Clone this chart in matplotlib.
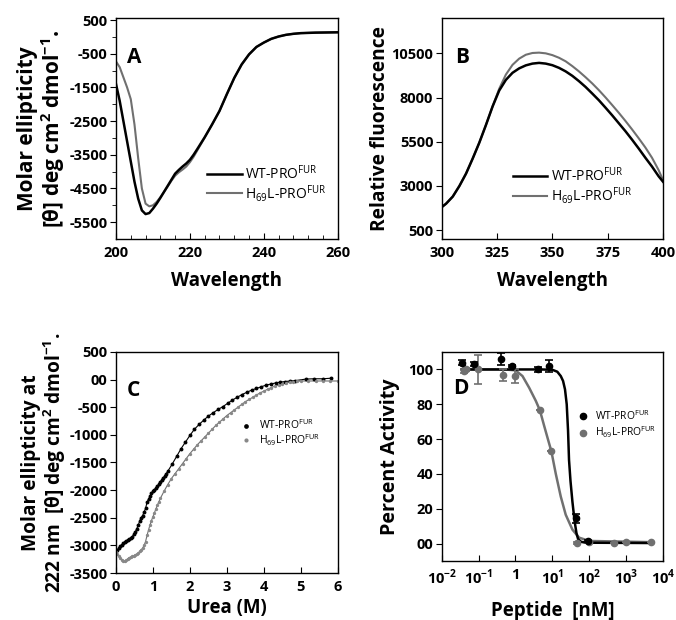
import matplotlib
matplotlib.use("Agg")
import matplotlib.pyplot as plt
from matplotlib.ticker import FixedLocator, NullLocator
from matplotlib.lines import Line2D

plt.rcParams["font.family"] = ["Open Sans", "DejaVu Sans"]
plt.rcParams["mathtext.fontset"] = "custom"
plt.rcParams["mathtext.rm"] = "Open Sans"
plt.rcParams["mathtext.bf"] = "Open Sans:bold"
plt.rcParams["axes.linewidth"] = 1.0

noir = "#000000"
gris = "#707070"

# ---------------- A : spectre CD
wl_wt = [200, 201, 202, 203, 204, 205, 206, 207, 208, 209, 210, 211, 212, 213, 214,
         215, 216, 217, 218, 219, 220, 221, 222, 224, 226, 228, 230, 232, 234, 236,
         238, 240, 242, 244, 246, 248, 250, 254, 260]
cd_wt = [-1400, -1900, -2500, -3100, -3700, -4300, -4800, -5150, -5260, -5230, -5100,
         -4950, -4780, -4600, -4420, -4240, -4060, -3950, -3850, -3760, -3650, -3500,
         -3330, -2980, -2600, -2200, -1700, -1220, -820, -520, -300, -170, -60, 10,
         60, 90, 110, 125, 135]
wl_h69 = [200, 201, 202, 203, 204, 205, 206, 207, 208, 209, 210, 211, 212, 213, 214,
          215, 216, 217, 218, 219, 220, 221, 222, 224, 226, 228, 230, 232, 234, 236,
          238, 240, 242, 244, 246, 248, 250, 254, 260]
cd_h69 = [-730, -900, -1200, -1500, -1850, -2600, -3600, -4500, -4950, -5030, -5000,
          -4900, -4760, -4600, -4440, -4270, -4120, -4020, -3940, -3850, -3720, -3560,
          -3370, -2990, -2600, -2200, -1700, -1220, -820, -520, -300, -170, -60, 10,
          60, 90, 110, 125, 135]

# ---------------- B : fluorescence
wl_fl = [300, 302, 305, 308, 311, 314, 317, 320, 323, 326, 329, 332, 335, 338, 341, 344,
         347, 350, 353, 356, 359, 362, 365, 368, 371, 374, 377, 380, 383, 386, 389, 392,
         395, 398, 400]
fl_wt = [1800, 2000, 2400, 3000, 3700, 4550, 5450, 6450, 7500, 8400, 9000, 9400, 9650,
         9820, 9920, 9960, 9920, 9830, 9680, 9480, 9230, 8930, 8600, 8230, 7850, 7430,
         7000, 6550, 6100, 5620, 5120, 4600, 4100, 3550, 3240]
fl_h69 = [1800, 2000, 2400, 3000, 3700, 4550, 5450, 6450, 7500, 8500, 9300, 9850, 10200,
          10420, 10520, 10540, 10500, 10400, 10250, 10050, 9780, 9480, 9150, 8800, 8420,
          8010, 7580, 7140, 6680, 6200, 5700, 5180, 4600, 3900, 3330]

# ---------------- C : dénaturation à l'urée
urea_wt = [0.00, 0.04, 0.08, 0.12, 0.16, 0.20, 0.24, 0.28, 0.32, 0.36, 0.40, 0.44, 0.48,
           0.52, 0.56, 0.60, 0.64, 0.68, 0.72, 0.76, 0.80, 0.84, 0.88, 0.92, 0.96, 1.00,
           1.04, 1.08, 1.12, 1.16, 1.20, 1.24, 1.28, 1.32, 1.36, 1.40, 1.52, 1.64, 1.76,
           1.88, 2.00, 2.12, 2.25, 2.38, 2.50, 2.63, 2.76, 2.89, 3.02, 3.15, 3.28, 3.41,
           3.54, 3.67, 3.80, 3.93, 4.06, 4.19, 4.32, 4.45, 4.58, 4.71, 4.84, 5.14, 5.37,
           5.59, 5.82]
ell_wt = [-3100, -3080, -3050, -3020, -2990, -2965, -2945, -2920, -2900, -2885, -2870,
          -2840, -2800, -2760, -2700, -2640, -2560, -2500, -2460, -2400, -2330, -2220,
          -2160, -2110, -2060, -2020, -1990, -1960, -1930, -1890, -1850, -1810, -1780,
          -1740, -1700, -1660, -1530, -1390, -1250, -1130, -1010, -900, -810, -730, -660,
          -600, -540, -490, -430, -370, -320, -270, -230, -190, -160, -130, -100, -80,
          -60, -45, -35, -25, -20, 10, 15, 15, 25]
urea_h69 = [0.00, 0.04, 0.08, 0.12, 0.16, 0.20, 0.24, 0.28, 0.32, 0.36, 0.40, 0.44, 0.48,
            0.52, 0.56, 0.60, 0.64, 0.68, 0.72, 0.76, 0.80, 0.84, 0.88, 0.92, 0.96, 1.00,
            1.04, 1.08, 1.12, 1.16, 1.20, 1.30, 1.40, 1.50, 1.60, 1.70, 1.80, 1.90, 2.00,
            2.10, 2.20, 2.30, 2.40, 2.50, 2.60, 2.70, 2.80, 2.90, 3.00, 3.10, 3.20, 3.30,
            3.40, 3.50, 3.60, 3.70, 3.80, 3.90, 4.00, 4.10, 4.20, 4.30, 4.40, 4.50, 4.60,
            4.70, 4.80, 4.90, 5.00, 5.20, 5.40, 5.60, 5.80, 6.00]
ell_h69 = [-3120, -3160, -3200, -3230, -3260, -3280, -3290, -3270, -3240, -3220, -3210,
           -3200, -3190, -3170, -3160, -3140, -3110, -3080, -3050, -3000, -2930, -2820,
           -2720, -2630, -2550, -2480, -2410, -2340, -2270, -2210, -2150, -2020, -1900,
           -1790, -1700, -1610, -1520, -1430, -1340, -1260, -1180, -1110, -1040, -970,
           -900, -830, -770, -710, -650, -600, -550, -500, -450, -400, -360, -320, -280,
           -240, -210, -175, -145, -120, -95, -75, -60, -45, -35, -30, -25, -25, -25,
           -25, -25, -25]

# ---------------- D : inhibition
pep_wt = [0.036, 0.076, 0.41, 0.79, 4.1, 8.3, 43, 95]
act_wt = [103.8, 103, 106, 102, 100, 102, 14.5, 1.5]
err_wt = [1.5, 1, 3.5, 0.5, 1.5, 3.5, 2.5, 0.5]
pep_h69 = [0.04, 0.045, 0.095, 0.45, 0.95, 4.6, 9.4, 48, 100, 480, 1000, 4800]
act_h69 = [99, 100, 100, 96.8, 96.3, 76.5, 53, 0.5, 1, 0.5, 0.8, 1]
err_h69 = [1, 1, 8.5, 3.5, 4, 0, 0, 0.5, 0.5, 0, 0, 0]
fit_x_wt = [0.035, 1, 5, 10, 13.6, 16.9, 19.5, 22, 24.5, 26.6, 28.3, 31, 35, 40, 45, 50,
            60, 80, 5000]
fit_y_wt = [100, 100, 100, 99.8, 98.7, 96.2, 93.4, 88.6, 80, 65, 48, 36, 24, 13, 6, 2.5,
            1, 0.5, 0.3]
fit_x_h69 = [0.035, 0.5, 1.0, 1.55, 2.35, 3.55, 4.6, 5.96, 7.8, 9.4, 12.4, 16.9, 23, 35,
             53, 100, 5000]
fit_y_h69 = [100, 100, 99.5, 96.2, 89.5, 82, 76.5, 67.8, 59, 53, 40, 27, 16.6, 8, 3.4,
             1.5, 0.8]

lab_wt = r"WT-PRO$^{\rm FUR}$"
lab_h69 = r"H$_{\rm 69}$L-PRO$^{\rm FUR}$"
ylab_cd = r"[θ] deg cm$^{\mathbf{2}}$ dmol$^{\mathbf{-1}}$."

fig = plt.figure(figsize=(6.76, 6.2), dpi=100)
axA = fig.add_axes([0.1716, 0.6145, 0.328, 0.3565])
axB = fig.add_axes([0.6534, 0.6145, 0.3274, 0.3565])
axC = fig.add_axes([0.1716, 0.0758, 0.328, 0.3565])
axD = fig.add_axes([0.6534, 0.0952, 0.3274, 0.337])

fs_tick = 10.5
fs_lab = 13.5

def style(ax):
    ax.tick_params(axis="x", direction="in", length=4, labelsize=fs_tick, pad=5)
    ax.tick_params(axis="y", direction="out", length=4, labelsize=fs_tick, pad=2)
    ax.tick_params(which="minor", length=3)

def bold_ticks(ax):
    for t in ax.get_xticklabels() + ax.get_yticklabels():
        t.set_fontweight("bold")

# --- A
axA.plot(wl_h69, cd_h69, c=gris, lw=1.5)
axA.plot(wl_wt, cd_wt, c=noir, lw=1.8)
axA.set_xlim(200, 260)
axA.set_ylim(-6000, 560)
axA.xaxis.set_major_locator(FixedLocator([200, 220, 240, 260]))
axA.xaxis.set_minor_locator(FixedLocator(list(range(204, 260, 4))))
axA.yaxis.set_major_locator(FixedLocator([500, -500, -1500, -2500, -3500, -4500, -5500]))
axA.yaxis.set_minor_locator(FixedLocator([0, -1000, -2000, -3000, -4000, -5000]))
style(axA)
axA.tick_params(axis="x", which="minor", direction="in")
axA.tick_params(axis="y", which="minor", direction="out")
axA.set_xticklabels(["200", "220", "240", "260"])
axA.set_yticklabels(["500", "-500", "-1500", "-2500", "-3500", "-4500", "-5500"])
bold_ticks(axA)
axA.set_xlabel("Wavelength", fontsize=fs_lab, fontweight="bold", labelpad=8)
axA.set_ylabel("Molar ellipticity\n" + ylab_cd, fontsize=15, fontweight="bold",
               labelpad=2, linespacing=1.05)
axA.text(0.05, 0.87, "A", transform=axA.transAxes, fontsize=15, fontweight="bold",
         va="top")
hA = [Line2D([], [], c=noir, lw=1.8), Line2D([], [], c=gris, lw=1.5)]
axA.legend(hA, [lab_wt, lab_h69], loc="center left", bbox_to_anchor=(0.41, 0.25),
           frameon=False, fontsize=10, handlelength=2.5, handletextpad=0.25,
           labelspacing=0.0, borderpad=0, borderaxespad=0)

# --- B
axB.plot(wl_fl, fl_h69, c=gris, lw=1.5)
axB.plot(wl_fl, fl_wt, c=noir, lw=1.8)
axB.set_xlim(300, 400)
axB.set_ylim(0, 12500)
axB.xaxis.set_major_locator(FixedLocator([300, 325, 350, 375, 400]))
axB.yaxis.set_major_locator(FixedLocator([500, 3000, 5500, 8000, 10500]))
style(axB)
axB.set_xticklabels(["300", "325", "350", "375", "400"])
axB.set_yticklabels(["500", "3000", "5500", "8000", "10500"])
bold_ticks(axB)
axB.set_xlabel("Wavelength", fontsize=fs_lab, fontweight="bold", labelpad=8)
axB.set_ylabel("Relative fluorescence", fontsize=13.8, fontweight="bold", labelpad=1)
axB.text(0.06, 0.87, "B", transform=axB.transAxes, fontsize=15, fontweight="bold",
         va="top")
axB.legend(hA, [lab_wt, lab_h69], loc="center left", bbox_to_anchor=(0.32, 0.24),
           frameon=False, fontsize=10, handlelength=2.5, handletextpad=0.25,
           labelspacing=0.0, borderpad=0, borderaxespad=0)

# --- C
axC.plot(urea_wt, ell_wt, c=noir, lw=0.8)
axC.plot(urea_h69, ell_h69, c=gris, lw=0.8)
axC.plot(urea_wt, ell_wt, "o", c=noir, ms=2.8, mew=0)
axC.plot(urea_h69, ell_h69, "o", c="#888888", ms=2.4, mew=0)
axC.set_xlim(0, 6)
axC.set_ylim(-3500, 500)
axC.xaxis.set_major_locator(FixedLocator([0, 1, 2, 3, 4, 5, 6]))
axC.yaxis.set_major_locator(FixedLocator([500, 0, -500, -1000, -1500, -2000, -2500,
                                          -3000, -3500]))
style(axC)
axC.set_xticklabels(["0", "1", "2", "3", "4", "5", "6"])
axC.set_yticklabels(["500", "00", "-500", "-1000", "-1500", "-2000", "-2500", "-3000",
                     "-3500"])
bold_ticks(axC)
axC.set_xlabel("Urea (M)", fontsize=fs_lab, fontweight="bold", labelpad=3)
axC.set_ylabel("Molar ellipticity at\n222 nm  " + ylab_cd, fontsize=13.8,
               fontweight="bold", labelpad=1, linespacing=1.05)
axC.text(0.05, 0.873, "C", transform=axC.transAxes, fontsize=15, fontweight="bold",
         va="top")
hC = [Line2D([], [], ls="", marker="o", c=noir, ms=3.4, mew=0),
      Line2D([], [], ls="", marker="o", c="#888888", ms=3.0, mew=0)]
axC.legend(hC, [lab_wt, lab_h69], loc="center left", bbox_to_anchor=(0.565, 0.633),
           frameon=False, fontsize=7.5, handlelength=1.0, handletextpad=0.7,
           labelspacing=0.0, borderpad=0, borderaxespad=0)

# --- D
axD.plot(fit_x_h69, fit_y_h69, c=gris, lw=1.8)
axD.plot(fit_x_wt, fit_y_wt, c=noir, lw=1.8)
axD.errorbar(pep_h69, act_h69, yerr=err_h69, fmt="o", c=gris, ms=4.5, capsize=3,
             elinewidth=1.2, capthick=1.2)
axD.errorbar(pep_wt, act_wt, yerr=err_wt, fmt="o", c=noir, ms=4.5, capsize=3,
             elinewidth=1.2, capthick=1.2)
axD.set_xscale("log")
axD.set_xlim(1e-2, 1e4)
axD.set_ylim(-10, 110)
axD.xaxis.set_major_locator(FixedLocator([1e-2, 1e-1, 1, 1e1, 1e2, 1e3, 1e4]))
axD.xaxis.set_minor_locator(NullLocator())
axD.yaxis.set_major_locator(FixedLocator([0, 20, 40, 60, 80, 100]))
style(axD)
axD.set_xticklabels([r"10$^{\mathbf{-2}}$", r"10$^{\mathbf{-1}}$", "1",
                     r"10$^{\mathbf{1}}$", r"10$^{\mathbf{2}}$", r"10$^{\mathbf{3}}$",
                     r"10$^{\mathbf{4}}$"])
axD.set_yticklabels(["00", "20", "40", "60", "80", "100"])
bold_ticks(axD)
axD.set_xlabel("Peptide  [nM]", fontsize=fs_lab, fontweight="bold", labelpad=10)
axD.set_ylabel("Percent Activity", fontsize=14.2, fontweight="bold", labelpad=6)
axD.text(0.05, 0.876, "D", transform=axD.transAxes, fontsize=15, fontweight="bold",
         va="top")
hD = [Line2D([], [], ls="", marker="o", c=noir, ms=4.5),
      Line2D([], [], ls="", marker="o", c=gris, ms=4.5)]
axD.legend(hD, [lab_wt, lab_h69], loc="center left", bbox_to_anchor=(0.614, 0.652),
           frameon=False, fontsize=7.5, handlelength=1.0, handletextpad=0.67,
           labelspacing=0.2, borderpad=0, borderaxespad=0)

fig.savefig("out.png", dpi=100)
